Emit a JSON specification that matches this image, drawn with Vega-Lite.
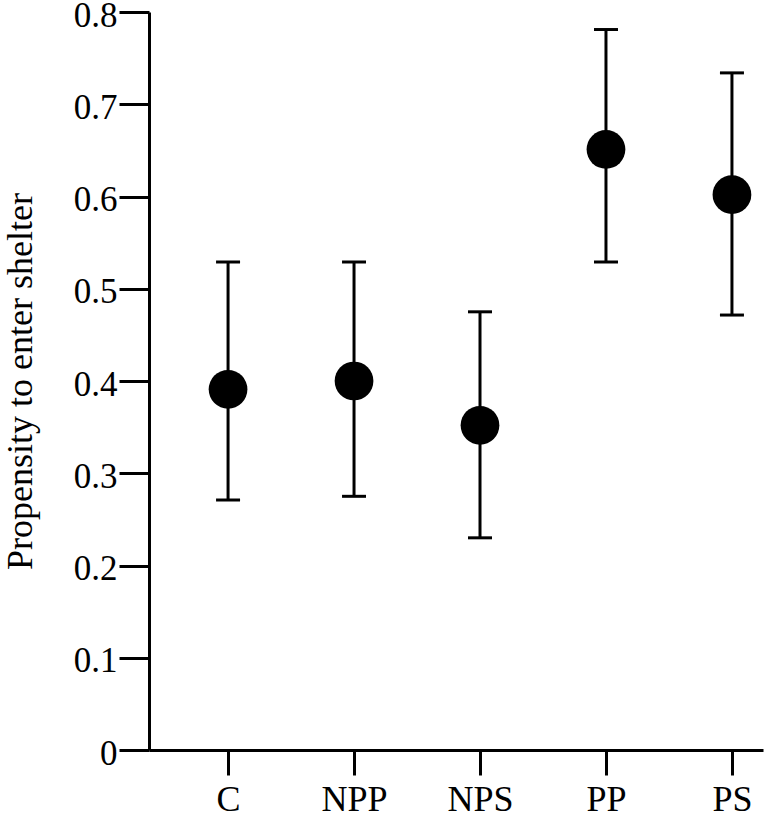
{
  "$schema": "https://vega.github.io/schema/vega-lite/v6.json",
  "width": 614,
  "height": 738,
  "autosize": "none",
  "padding": {"left": 149, "top": 12, "right": 4, "bottom": 71},
  "background": "white",
  "config": {"view": {"stroke": null}, "font": "Liberation Serif"},
  "data": {
    "values": [
      {"group": "C", "mean": 0.391, "lo": 0.271, "hi": 0.529},
      {"group": "NPP", "mean": 0.400, "lo": 0.275, "hi": 0.529},
      {"group": "NPS", "mean": 0.352, "lo": 0.230, "hi": 0.475},
      {"group": "PP", "mean": 0.651, "lo": 0.529, "hi": 0.781},
      {"group": "PS", "mean": 0.602, "lo": 0.4715, "hi": 0.734}
    ]
  },
  "encoding": {
    "x": {
      "field": "group",
      "type": "nominal",
      "sort": null,
      "scale": {"type": "point", "padding": 0.437, "align": 0.718},
      "axis": {
        "title": null,
        "labelAngle": 0,
        "labelFont": "Liberation Serif",
        "labelFontSize": 36,
        "labelColor": "black",
        "labelPadding": 7,
        "tickSize": 25,
        "tickWidth": 3,
        "tickColor": "black",
        "domainWidth": 3,
        "domainColor": "black",
        "grid": false
      }
    }
  },
  "layer": [
    {
      "mark": {"type": "rule", "strokeWidth": 3, "color": "black"},
      "encoding": {
        "y": {
          "field": "lo",
          "type": "quantitative",
          "scale": {"domain": [0, 0.8], "nice": false, "zero": true},
          "axis": {
            "title": "Propensity to enter shelter",
            "titleFont": "Liberation Serif",
            "titleFontSize": 36,
            "titleFontWeight": "normal",
            "titleColor": "black",
            "titlePadding": 34,
            "values": [0, 0.1, 0.2, 0.3, 0.4, 0.5, 0.6, 0.7, 0.8],
            "format": "~g",
            "labelFont": "Liberation Serif",
            "labelFontSize": 35,
            "labelColor": "black",
            "labelPadding": 2,
            "labelOffset": 3,
            "tickSize": 30,
            "tickWidth": 3,
            "tickColor": "black",
            "domainWidth": 3,
            "domainColor": "black",
            "grid": false
          }
        },
        "y2": {"field": "hi"}
      }
    },
    {
      "mark": {"type": "tick", "orient": "horizontal", "size": 24, "thickness": 3, "color": "black", "opacity": 1},
      "encoding": {"y": {"field": "lo", "type": "quantitative"}}
    },
    {
      "mark": {"type": "tick", "orient": "horizontal", "size": 24, "thickness": 3, "color": "black", "opacity": 1},
      "encoding": {"y": {"field": "hi", "type": "quantitative"}}
    },
    {
      "mark": {"type": "circle", "size": 1500, "color": "black", "opacity": 1},
      "encoding": {"y": {"field": "mean", "type": "quantitative"}}
    }
  ]
}
